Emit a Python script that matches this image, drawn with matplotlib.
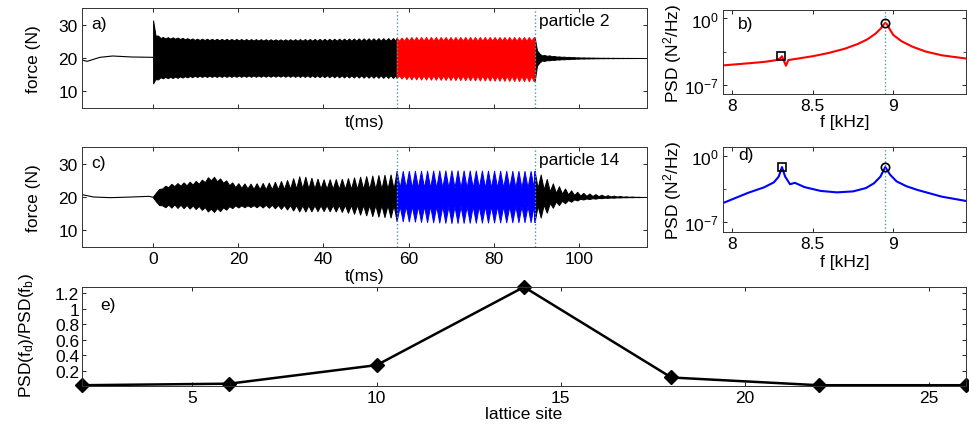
import numpy as np
import matplotlib
matplotlib.use("Agg")
import matplotlib.pyplot as plt

plt.rcParams['font.family'] = ['Liberation Sans', 'DejaVu Sans']
plt.rcParams['mathtext.fontset'] = 'custom'
plt.rcParams['mathtext.rm'] = 'Liberation Sans'
plt.rcParams['mathtext.it'] = 'Liberation Sans:italic'

FS = 12.5

# ---- data ----
t_marks = [57.2, 89.6]          # dotted window (ms)
f_peak = 8.95                   # dotted line in PSD panels (kHz)

# particle 2, force envelope (N)
a_pre_t = [-17, -15.5, -12.5, -9.5, -5, 0]
a_pre_f = [19.5, 19.0, 20.2, 20.6, 20.3, 20.2]
a_env_t = [0, 0.3, 1, 2, 5, 10, 30, 57.2, 60, 89.6, 90.3, 91, 93, 95, 100, 105, 110, 116]
a_hi = [31.3, 27.5, 26.8, 26.3, 26.2, 25.8, 25.6, 26.0, 26.3, 26.3, 22.0, 21.0, 20.8, 20.5, 20.2, 20.1, 20.05, 20.0]
a_lo = [12.4, 13.0, 13.5, 13.9, 14.0, 14.3, 14.4, 14.0, 13.6, 13.0, 18.0, 19.0, 19.3, 19.5, 19.8, 19.9, 19.95, 20.0]
a_in_hi = [31.3, 27.0, 26.3, 25.9, 25.8, 25.4, 25.2, 25.2, 25.2, 25.2, 21.6, 20.8, 20.6, 20.4, 20.15, 20.05, 20.02, 20.0]
a_in_lo = [12.4, 13.5, 14.0, 14.3, 14.4, 14.7, 14.8, 14.8, 14.8, 14.6, 18.4, 19.2, 19.4, 19.6, 19.85, 19.95, 19.98, 20.0]
a_ripple = 1.15

# particle 14, force envelope (N)
c_pre_t = [-17, -14, -10, -5, -1, 0.5]
c_pre_f = [20.8, 20.0, 19.8, 20.0, 20.2, 19.8]
c_env_t = [0, 0.5, 2, 4.4, 8, 11, 13.6, 16, 19, 22.8, 27, 31.2, 34.6, 39.6, 44, 48, 52, 56.4,
           57.2, 70, 89.6, 91.2, 94.3, 97.5, 100.5, 106, 111, 116]
c_hi = [20.2, 21.5, 23.0, 24.0, 24.5, 25.0, 26.3, 25.5, 24.2, 24.0, 24.3, 25.0, 26.3, 25.3,
        25.4, 26.0, 26.5, 26.8, 27.8, 28.0, 27.8, 26.6, 23.7, 22.2, 21.3, 20.6, 20.2, 20.0]
c_lo = [19.8, 18.5, 17.0, 16.8, 16.6, 16.3, 15.4, 15.8, 16.8, 17.0, 16.8, 16.3, 15.6, 15.8,
        15.6, 14.8, 14.2, 13.8, 12.8, 12.2, 12.5, 14.0, 17.2, 18.4, 19.2, 19.7, 19.9, 20.0]
c_in_hi = [20.2, 21.2, 22.5, 23.2, 23.5, 24.0, 25.0, 24.5, 23.0, 22.5, 22.3, 22.4, 22.6, 22.5,
           22.4, 22.4, 22.4, 22.4, 22.8, 22.8, 22.8, 22.5, 21.3, 20.8, 20.4, 20.2, 20.1, 20.0]
c_in_lo = [19.8, 18.8, 17.5, 17.8, 17.6, 17.3, 16.5, 16.8, 17.5, 17.5, 17.7, 17.6, 17.5, 17.5,
           17.6, 17.6, 17.6, 17.6, 17.3, 17.3, 17.3, 17.5, 18.6, 19.1, 19.5, 19.8, 19.95, 20.0]
c_beat = 1.43

# PSD, log10(N^2/Hz)
fb = [7.945, 8.1, 8.2, 8.28, 8.30, 8.31, 8.325, 8.335, 8.35, 8.37, 8.5, 8.6, 8.7, 8.78, 8.84,
      8.89, 8.92, 8.94, 8.95, 8.96, 8.98, 9.0, 9.05, 9.12, 9.2, 9.3, 9.45]
psd_b = [-4.97, -4.75, -4.6, -4.4, -4.2, -4.0, -4.6, -5.0, -4.4, -4.35, -4.0, -3.65, -3.2, -2.7,
         -2.2, -1.6, -1.1, -0.65, -0.45, -0.6, -1.2, -1.75, -2.4, -3.0, -3.5, -3.9, -4.24]
fd = [7.945, 8.1, 8.2, 8.26, 8.29, 8.31, 8.33, 8.36, 8.39, 8.45, 8.55, 8.65, 8.75, 8.83, 8.88,
      8.92, 8.95, 8.98, 9.02, 9.08, 9.15, 9.3, 9.45]
psd_d = [-4.97, -3.9, -3.32, -2.8, -2.2, -1.2, -2.2, -3.0, -2.85, -3.3, -3.7, -3.85, -3.75, -3.4,
         -2.9, -2.2, -1.2, -2.0, -2.7, -3.2, -3.6, -4.3, -4.75]
b_sq, b_ci = (8.305, -3.96), (8.95, -0.45)
d_sq, d_ci = (8.31, -1.2), (8.95, -1.2)

# ratio vs lattice site
sites = [2, 6, 10, 14, 18, 22, 26]
ratio = [0.01, 0.03, 0.27, 1.28, 0.11, 0.01, 0.01]


def band(ax, t0, t1, period, knots, hi, lo, hi_in, lo_in, color):
    ts = np.arange(t0, t1, period / 2)
    ts = np.append(ts, t1)
    peak = np.arange(len(ts)) % 2 == 0
    up = np.where(peak, np.interp(ts, knots, hi), np.interp(ts, knots, hi_in))
    dn = np.where(peak, np.interp(ts, knots, lo), np.interp(ts, knots, lo_in))
    ax.fill_between(ts, dn, up, color=color, lw=0.7, edgecolor=color)


def style(ax):
    ax.tick_params(direction='in', top=True, right=True, length=3, width=0.6,
                   labelsize=FS, pad=3)
    ax.tick_params(which='minor', direction='in', top=True, right=True, length=2, width=0.5)
    for s in ax.spines.values():
        s.set_color('#333333')
        s.set_linewidth(0.7)


fig = plt.figure(figsize=(9.69, 4.27), dpi=100)
W, H = 969, 427


def box(x0, y0, x1, y1):
    return fig.add_axes([x0 / W, 1 - y1 / H, (x1 - x0) / W, (y1 - y0) / H])


ax_a = box(82, 9, 647, 109)
ax_c = box(82, 148, 647, 248)
ax_b = box(723, 11, 966, 95)
ax_d = box(723, 148, 966, 233)
ax_e = box(82, 288, 966, 387)

vcol = '#4f9a9a'

# time panels
for ax, pre_t, pre_f, kn, hi, lo, hin, lon, per, col, lab, part in [
        (ax_a, a_pre_t, a_pre_f, a_env_t, a_hi, a_lo, a_in_hi, a_in_lo, a_ripple, 'red', 'a)', 'particle 2'),
        (ax_c, c_pre_t, c_pre_f, c_env_t, c_hi, c_lo, c_in_hi, c_in_lo, c_beat, 'blue', 'c)', 'particle 14')]:
    ax.plot(pre_t, pre_f, color='black', lw=0.8)
    band(ax, 0, t_marks[0], per, kn, hi, lo, hin, lon, 'black')
    band(ax, t_marks[1], 116, per, kn, hi, lo, hin, lon, 'black')
    band(ax, t_marks[0], t_marks[1], per, kn, hi, lo, hin, lon, col)
    for tm in t_marks:
        ax.axvline(tm, color=vcol, ls=':', lw=1)
    ax.set_xlim(-16.7, 116)
    ax.set_ylim(5, 35)
    ax.set_xticks([0, 20, 40, 60, 80, 100])
    ax.set_yticks([10, 20, 30])
    ax.set_ylabel('force (N)', fontsize=FS)
    ax.yaxis.set_label_coords(-0.072, 0.5)
    ax.text(-14.5, 30.3, lab, fontsize=FS, va='center')
    ax.text(90.6, 31.2, part, fontsize=FS, va='center')
    style(ax)

ax_a.set_xticklabels([])
ax_a.set_xlabel('t(ms)', fontsize=FS)
ax_a.xaxis.set_label_coords(0.5, -0.06)
ax_c.set_xlabel('t(ms)', fontsize=FS)
ax_c.xaxis.set_label_coords(0.5, -0.21)

# PSD panels
for ax, f, p, col, sq, ci, lab in [(ax_b, fb, psd_b, 'red', b_sq, b_ci, 'b)'),
                                    (ax_d, fd, psd_d, 'blue', d_sq, d_ci, 'd)')]:
    ax.semilogy(f, 10 ** np.array(p), color=col, lw=1.5)
    ax.axvline(f_peak, color=vcol, ls=':', lw=1)
    ax.plot(sq[0], 10 ** sq[1], 's', mfc='none', mec='black', ms=6, mew=1.2)
    ax.plot(ci[0], 10 ** ci[1], 'o', mfc='none', mec='black', ms=6, mew=1.2)
    ax.set_xlim(7.945, 9.45)
    ax.set_ylim(10 ** -8, 10 ** 0.9)
    ax.set_yticks([1e-7, 1e0])
    ax.set_yticklabels([r'$\mathregular{10^{-7}}$', r'$\mathregular{10^{0}}$'])
    ax.set_yticks([10 ** -3.5], minor=True)
    ax.set_yticklabels([''], minor=True)
    ax.set_xticks([8, 8.5, 9])
    ax.set_xticklabels(['8', '8.5', '9'])
    ax.set_ylabel(r'PSD (N$^{2}$/Hz)', fontsize=FS)
    ax.yaxis.set_label_coords(-0.16, 0.5)
    ax.set_xlabel('f [kHz]', fontsize=FS)
    ax.text(8.04, 10 ** (0.1 if lab == 'd)' else -0.5), lab, fontsize=FS, va='center')
    style(ax)
ax_b.xaxis.set_label_coords(0.5, -0.24)
ax_d.xaxis.set_label_coords(0.5, -0.26)

# ratio panel
ax_e.plot(sites, ratio, color='black', lw=1.8, marker='D', ms=7.5, clip_on=False)
ax_e.set_xlim(2, 26)
ax_e.set_ylim(0, 1.28)
ax_e.set_xticks([5, 10, 15, 20, 25])
ax_e.set_yticks([0.2, 0.4, 0.6, 0.8, 1.0, 1.2])
ax_e.set_yticklabels(['0.2', '0.4', '0.6', '0.8', '1', '1.2'])
ax_e.set_xlabel('lattice site', fontsize=FS)
ax_e.xaxis.set_label_coords(0.5, -0.2)
ax_e.set_ylabel(r'PSD(f$_\mathregular{d}$)/PSD(f$_\mathregular{b}$)', fontsize=FS)
ax_e.yaxis.set_label_coords(-0.052, 0.52)
ax_e.text(2.5, 1.06, 'e)', fontsize=FS, va='center')
style(ax_e)
ax_e.tick_params(axis='y', pad=2)

fig.savefig('out.png', dpi=100)
